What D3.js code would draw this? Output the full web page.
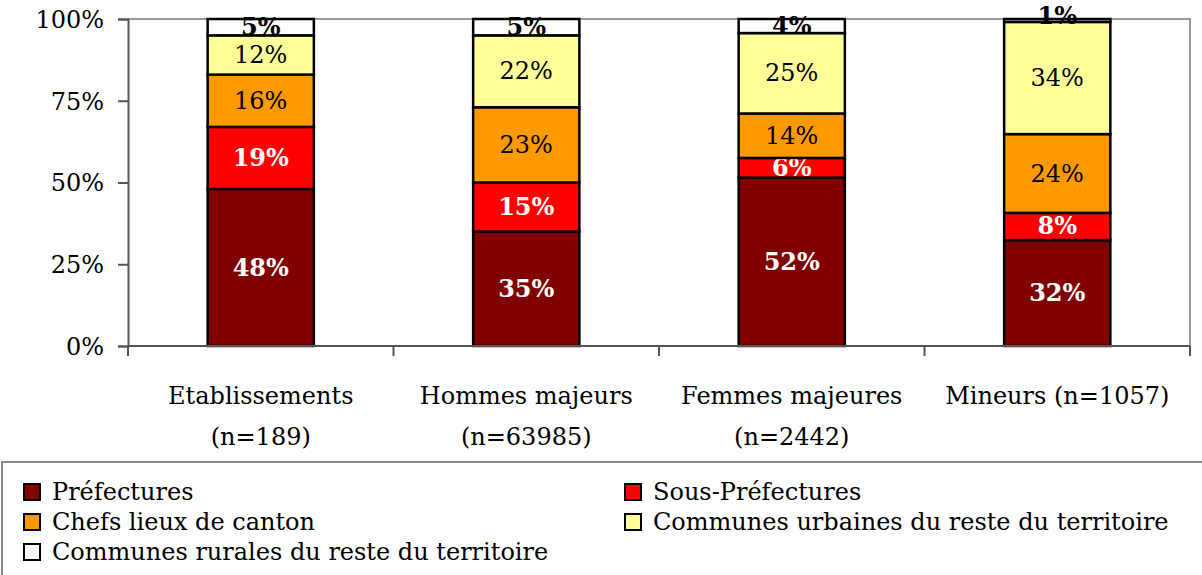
<!DOCTYPE html>
<html>
<head>
<meta charset="utf-8">
<script src="https://cdn.jsdelivr.net/npm/d3@7"></script>
<style>
  body { margin: 0; background: #fff; }
  svg { font-family: "DejaVu Serif", serif; }
</style>
</head>
<body>
<div id="chart"></div>
<script>
// categories (each label split over lines as in the original)
let categories = ["Etablissements", "Hommes majeurs", "Femmes majeures", "Mineurs"];
let categoryLines = [
  ["Etablissements", "(n=189)"],
  ["Hommes majeurs", "(n=63985)"],
  ["Femmes majeures", "(n=2442)"],
  ["Mineurs (n=1057)"]
];
let seriesNames = [
  "Préfectures",
  "Sous-Préfectures",
  "Chefs lieux de canton",
  "Communes urbaines du reste du territoire",
  "Communes rurales du reste du territoire"
];
// values in percent, per series, in category order
let prefectures     = [48, 35, 51.5, 32.4];
let sousPrefectures = [19, 15, 6.0, 8.3];
let chefsLieux      = [16, 23, 13.6, 24.1];
let urbaines        = [12, 22, 24.6, 34.3];
let rurales         = [5, 5, 4.3, 0.9];
let yTicks = [0, 25, 50, 75, 100];

let seriesValues = [prefectures, sousPrefectures, chefsLieux, urbaines, rurales];
let colors = ["#800000", "#ff0000", "#ff9900", "#ffff99", "#ffffff"];
let labelFill = ["#fff", "#fff", "#000", "#000", "#000"];
let labelWeight = ["bold", "bold", "normal", "normal", "bold"];

let fontSize = 24;
let width = 1202, height = 575;
let margin = { top: 19, left: 128, right: 12, bottom: 229 };
let plotW = width - margin.left - margin.right;
let plotH = height - margin.top - margin.bottom;

let svg = d3.select("#chart").append("svg")
  .attr("width", width)
  .attr("height", height);

let g = svg.append("g").attr("transform", `translate(${margin.left},${margin.top})`);

let x = d3.scaleBand().domain(categories).range([0, plotW]).paddingInner(0.6).paddingOuter(0.3);
let xOuter = d3.scaleBand().domain(categories).range([0, plotW]);
let y = d3.scaleLinear().domain([0, 100]).range([plotH, 0]);

// build table for stacking
let table = categories.map((c, i) => {
  let row = { category: c };
  seriesNames.forEach((s, j) => row[s] = seriesValues[j][i]);
  return row;
});
let stacked = d3.stack().keys(seriesNames)(table);

// plot border (top/right)
g.append("path")
  .attr("d", `M0,0H${plotW}V${plotH}`)
  .attr("fill", "none")
  .attr("stroke", "#999")
  .attr("stroke-width", 2);

// bars
let layers = g.selectAll(".layer")
  .data(stacked)
  .enter().append("g")
  .attr("class", "layer");

layers.selectAll("rect")
  .data(d => d.map(p => ({ p: p, key: d.key, idx: d.index })))
  .enter().append("rect")
  .attr("x", d => x(d.p.data.category))
  .attr("y", d => y(Math.min(d.p[1], 100)))
  .attr("width", x.bandwidth())
  .attr("height", d => y(d.p[0]) - y(Math.min(d.p[1], 100)))
  .attr("fill", d => colors[d.idx])
  .attr("stroke", "#000")
  .attr("stroke-width", 2.5);

// labels
layers.selectAll("text")
  .data(d => d.map(p => ({ p: p, key: d.key, idx: d.index })))
  .enter().append("text")
  .attr("x", d => x(d.p.data.category) + x.bandwidth() / 2)
  .attr("y", d => {
    let top = y(Math.min(d.p[1], 100)), bot = y(d.p[0]);
    if (bot - top < 10) return top + 5;
    return (top + bot) / 2 + 8;
  })
  .attr("text-anchor", "middle")
  .attr("font-size", fontSize)
  .attr("font-weight", d => labelWeight[d.idx])
  .attr("fill", d => labelFill[d.idx])
  .text(d => Math.round(d.p[1] - d.p[0]) + "%");

// y axis
let yAxis = g.append("g")
  .call(d3.axisLeft(y).tickValues(yTicks).tickFormat(d => d + "%").tickSize(10).tickPadding(14));
yAxis.select(".domain").attr("stroke", "#555").attr("stroke-width", 2);
yAxis.selectAll(".tick line").attr("stroke", "#555").attr("stroke-width", 2);
yAxis.selectAll("text")
  .attr("font-family", "DejaVu Serif, serif")
  .attr("font-size", fontSize)
  .attr("fill", "#000")
  .attr("dy", "0.35em");

// x axis with ticks at category boundaries
let xAxis = g.append("g").attr("transform", `translate(0,${plotH})`);
xAxis.append("line")
  .attr("x1", 0).attr("x2", plotW)
  .attr("stroke", "#555").attr("stroke-width", 2);
let bounds = categories.map(c => xOuter(c)).concat([plotW]);
xAxis.selectAll(".btick")
  .data(bounds)
  .enter().append("line")
  .attr("x1", d => d).attr("x2", d => d)
  .attr("y1", 0).attr("y2", 10)
  .attr("stroke", "#555").attr("stroke-width", 2);

let catLabels = xAxis.selectAll(".cat")
  .data(categories)
  .enter().append("text")
  .attr("text-anchor", "middle")
  .attr("font-size", fontSize)
  .attr("fill", "#000");
catLabels.each(function(c, i) {
  let t = d3.select(this);
  categoryLines[i].forEach((line, k) => {
    t.append("tspan")
      .attr("x", xOuter(c) + xOuter.bandwidth() / 2)
      .attr("y", 58 + k * 41)
      .text(line);
  });
});

// legend
let legend = svg.append("g").attr("transform", "translate(0,462)");
legend.append("rect")
  .attr("x", 2).attr("y", 0)
  .attr("width", width + 10).attr("height", 140)
  .attr("fill", "#fff")
  .attr("stroke", "#888")
  .attr("stroke-width", 2);

let legendItems = legend.selectAll(".item")
  .data(seriesNames)
  .enter().append("g")
  .attr("transform", (d, i) => `translate(${i % 2 === 0 ? 24 : 625},${22 + Math.floor(i / 2) * 30})`);

legendItems.append("rect")
  .attr("width", 16).attr("height", 16)
  .attr("fill", (d, i) => colors[i])
  .attr("stroke", "#000")
  .attr("stroke-width", 2);

legendItems.append("text")
  .attr("x", 28)
  .attr("y", 16)
  .attr("font-size", fontSize)
  .attr("fill", "#000")
  .text(d => d);
</script>
</body>
</html>
